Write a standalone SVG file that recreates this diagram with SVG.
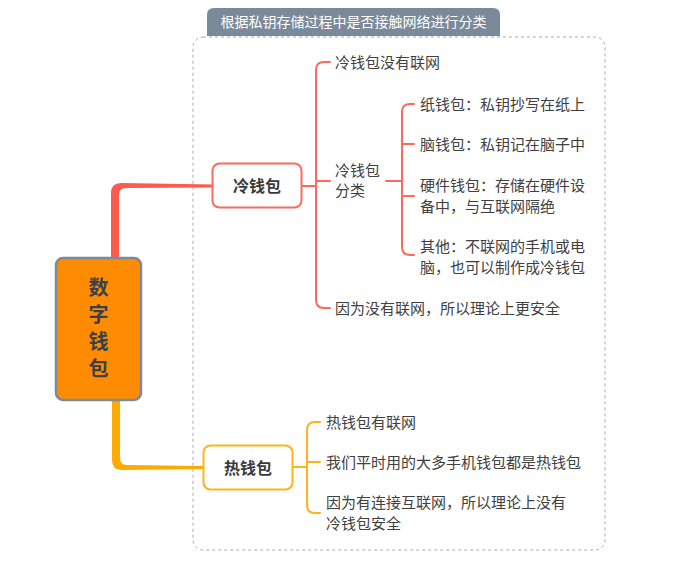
<svg xmlns="http://www.w3.org/2000/svg" width="700" height="564" viewBox="0 0 700 564">
<style>
text{font-family:"Noto Sans CJK SC","Noto Sans",sans-serif;}
.leaf{font-size:15px;fill:#404040;}
.node{font-size:16px;font-weight:bold;fill:#3a3a3a;text-anchor:middle;}
.red{fill:none;stroke:#FA6A5E;stroke-width:2;stroke-linecap:round;stroke-linejoin:round;}
.yel{fill:none;stroke:#FFB31A;stroke-width:2;stroke-linecap:round;stroke-linejoin:round;}
</style>
<rect width="700" height="564" fill="#ffffff"/>
<g id="boundary">
<rect x="193" y="37" width="412" height="513" rx="10" fill="none" stroke="#aaaaaa" stroke-width="1" stroke-dasharray="3 3"/>
<path d="M207,36 V15 Q207,8 214,8 H493 Q500,8 500,15 V36 Z" fill="#7b8a9b"/>
<text x="353.5" y="27" font-size="14" fill="#ffffff" text-anchor="middle">根据私钥存储过程中是否接触网络进行分类</text>
</g>
<g id="connectors">
<path d="M111,258 L111,193 Q111,183 121,183 L213,184.5 L213,187.5 L126,188 Q119,188 119,195 L119,258 Z" fill="#FF5A4E"/>
<path d="M112,400 L112,460 Q112,470 122,470 L203,469 L203,466 L127,465 Q120,465 120,458 L120,400 Z" fill="#FFAA00"/>
<path class="red" d="M302,186 H316"/>
<path class="red" d="M330,62 H324 Q316,62 316,70 V300 Q316,308 324,308 H330"/>
<path class="red" d="M316,181 H330"/>
<path class="red" d="M386,181 H402"/>
<path class="red" d="M414,104 H410 Q402,104 402,112 V247 Q402,255 410,255 H414"/>
<path class="red" d="M402,144 H414"/>
<path class="red" d="M402,196 H414"/>
<path class="yel" d="M293,467 H307"/>
<path class="yel" d="M320,422 H315 Q307,422 307,430 V505 Q307,513 315,513 H320"/>
<path class="yel" d="M307,462 H320"/>
</g>
<g id="root">
<rect x="56" y="258" width="85" height="142" rx="7" fill="#FF8C00" stroke="#7b8a9b" stroke-width="2.5"/>
<text x="98.5" y="295" font-size="20" font-weight="bold" fill="#3a3f4a" text-anchor="middle">数</text>
<text x="98.5" y="322" font-size="20" font-weight="bold" fill="#3a3f4a" text-anchor="middle">字</text>
<text x="98.5" y="349" font-size="20" font-weight="bold" fill="#3a3f4a" text-anchor="middle">钱</text>
<text x="98.5" y="376" font-size="20" font-weight="bold" fill="#3a3f4a" text-anchor="middle">包</text>
</g>
<g id="cold">
<rect x="212.5" y="163.5" width="89" height="44" rx="7" fill="#ffffff" stroke="#FA6A5E" stroke-width="2"/>
<text class="node" x="257" y="191.5">冷钱包</text>
</g>
<g id="hot">
<rect x="203.5" y="445.5" width="89" height="44" rx="7" fill="#ffffff" stroke="#FFB31A" stroke-width="2"/>
<text class="node" x="248" y="473.5">热钱包</text>
</g>
<g id="cold-offline"><text class="leaf" x="335" y="67.5">冷钱包没有联网</text></g>
<g id="cold-types">
<text class="leaf" x="335" y="175.5">冷钱包</text>
<text class="leaf" x="335" y="195.5">分类</text>
</g>
<g id="paper"><text class="leaf" x="420" y="109.5">纸钱包：私钥抄写在纸上</text></g>
<g id="brain"><text class="leaf" x="420" y="149.5">脑钱包：私钥记在脑子中</text></g>
<g id="hardware">
<text class="leaf" x="420" y="190.5">硬件钱包：存储在硬件设</text>
<text class="leaf" x="420" y="211.5">备中，与互联网隔绝</text>
</g>
<g id="other">
<text class="leaf" x="420" y="251.5">其他：不联网的手机或电</text>
<text class="leaf" x="420" y="272.5">脑，也可以制作成冷钱包</text>
</g>
<g id="cold-safe"><text class="leaf" x="335" y="313.5">因为没有联网，所以理论上更安全</text></g>
<g id="hot-online"><text class="leaf" x="326" y="427.5">热钱包有联网</text></g>
<g id="hot-mobile"><text class="leaf" x="326" y="467.5">我们平时用的大多手机钱包都是热钱包</text></g>
<g id="hot-unsafe">
<text class="leaf" x="326" y="507.5">因为有连接互联网，所以理论上没有</text>
<text class="leaf" x="326" y="528.5">冷钱包安全</text>
</g>
</svg>
